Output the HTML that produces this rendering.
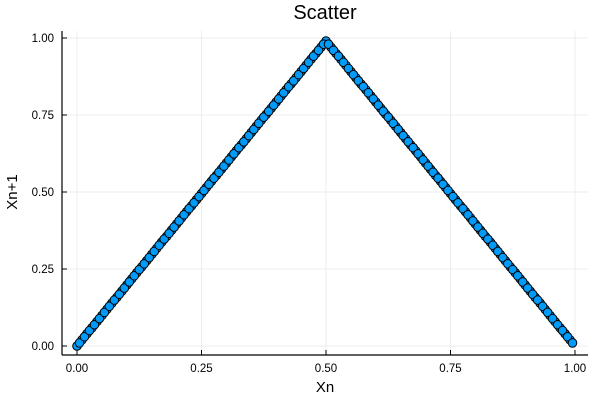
<!DOCTYPE html>
<html><head><meta charset="utf-8"><style>
body{margin:0;background:#fff;}
svg{display:block;font-family:"Liberation Sans",sans-serif;}
</style></head><body>
<svg id="chart" width="600" height="400">
<rect width="600" height="400" fill="#fff"/>
<text x="325" y="19" font-size="20" text-anchor="middle" fill="#000">Scatter</text>
<g id="grid"></g><g id="axes"></g><g id="marks"></g>
<text x="325" y="392" font-size="15" text-anchor="middle">Xn</text>
<text x="17" y="192" font-size="15" text-anchor="middle" transform="rotate(-90 17 192)">Xn+1</text>
</svg>
<script>
const xs=[0,0.01,0.02,0.03,0.04,0.05,0.06,0.07,0.08,0.09,0.10,0.11,0.12,0.13,0.14,0.15,0.16,0.17,0.18,0.19,0.20,0.21,0.22,0.23,0.24,0.25,0.26,0.27,0.28,0.29,0.30,0.31,0.32,0.33,0.34,0.35,0.36,0.37,0.38,0.39,0.40,0.41,0.42,0.43,0.44,0.45,0.46,0.47,0.48,0.49,0.50,0.51,0.52,0.53,0.54,0.55,0.56,0.57,0.58,0.59,0.60,0.61,0.62,0.63,0.64,0.65,0.66,0.67,0.68,0.69,0.70,0.71,0.72,0.73,0.74,0.75,0.76,0.77,0.78,0.79,0.80,0.81,0.82,0.83,0.84,0.85,0.86,0.87,0.88,0.89,0.90,0.91,0.92,0.93,0.94,0.95,0.96,0.97,0.98,0.99];
const ys=[0,0.020,0.040,0.059,0.079,0.099,0.119,0.139,0.158,0.178,0.198,0.218,0.238,0.257,0.277,0.297,0.317,0.337,0.356,0.376,0.396,0.416,0.436,0.455,0.475,0.495,0.515,0.535,0.554,0.574,0.594,0.614,0.634,0.653,0.673,0.693,0.713,0.733,0.752,0.772,0.792,0.812,0.832,0.851,0.871,0.891,0.911,0.931,0.950,0.970,0.990,0.970,0.950,0.931,0.911,0.891,0.871,0.851,0.832,0.812,0.792,0.772,0.752,0.733,0.713,0.693,0.673,0.653,0.634,0.614,0.594,0.574,0.554,0.535,0.515,0.495,0.475,0.455,0.436,0.416,0.396,0.376,0.356,0.337,0.317,0.297,0.277,0.257,0.238,0.218,0.198,0.178,0.158,0.139,0.119,0.099,0.079,0.059,0.040,0.020];
const xs2=[0.005,0.015,0.025,0.035,0.045,0.055,0.065,0.075,0.085,0.095,0.105,0.115,0.125,0.135,0.145,0.155,0.165,0.175,0.185,0.195,0.205,0.215,0.225,0.235,0.245,0.255,0.265,0.275,0.285,0.295,0.305,0.315,0.325,0.335,0.345,0.355,0.365,0.375,0.385,0.395,0.405,0.415,0.425,0.435,0.445,0.455,0.465,0.475,0.485,0.495,0.505,0.515,0.525,0.535,0.545,0.555,0.565,0.575,0.585,0.595,0.605,0.615,0.625,0.635,0.645,0.655,0.665,0.675,0.685,0.695,0.705,0.715,0.725,0.735,0.745,0.755,0.765,0.775,0.785,0.795,0.805,0.815,0.825,0.835,0.845,0.855,0.865,0.875,0.885,0.895,0.905,0.915,0.925,0.935,0.945,0.955,0.965,0.975,0.985,0.995];
const ys2=[0.010,0.030,0.050,0.069,0.089,0.109,0.129,0.149,0.168,0.188,0.208,0.228,0.248,0.267,0.287,0.307,0.327,0.347,0.366,0.386,0.406,0.426,0.446,0.465,0.485,0.505,0.525,0.545,0.564,0.584,0.604,0.624,0.644,0.663,0.683,0.703,0.723,0.743,0.762,0.782,0.802,0.822,0.842,0.861,0.881,0.901,0.921,0.941,0.960,0.980,0.980,0.960,0.941,0.921,0.901,0.881,0.861,0.842,0.822,0.802,0.782,0.762,0.743,0.723,0.703,0.683,0.663,0.644,0.624,0.604,0.584,0.564,0.545,0.525,0.505,0.485,0.465,0.446,0.426,0.406,0.386,0.366,0.347,0.327,0.307,0.287,0.267,0.248,0.228,0.208,0.188,0.168,0.149,0.129,0.109,0.089,0.069,0.050,0.030,0.010];
const xTicks=[0,0.25,0.5,0.75,1];
const xTickLabels=["0.00","0.25","0.50","0.75","1.00"];
const yTicks=[0,0.25,0.5,0.75,1];
const yTickLabels=["0.00","0.25","0.50","0.75","1.00"];
const NS="http://www.w3.org/2000/svg";
const L=62,R=588,T=31,B=355;
const sx=v=>77+v*(575-77);
const sy=v=>346-v*(346-38);
function mk(tag,attrs,parent){const e=document.createElementNS(NS,tag);for(const k in attrs)e.setAttribute(k,attrs[k]);parent.appendChild(e);return e;}
const grid=document.getElementById('grid'),axes=document.getElementById('axes'),marks=document.getElementById('marks');
xTicks.forEach((t,i)=>{
  const g=mk('line',{x1:sx(t),x2:sx(t),y1:T,y2:B,stroke:'#ececec','stroke-width':1},grid);
  
  
  const tk=mk('line',{x1:sx(t),x2:sx(t),y1:B,y2:B-5,stroke:'#000'},axes);
  
  
  const tx=mk('text',{x:sx(t),y:372,'font-size':11.5,'text-anchor':'middle'},axes);
  tx.textContent=xTickLabels[i];
  
  
});
yTicks.forEach((t,i)=>{
  const g=mk('line',{x1:L,x2:R,y1:sy(t),y2:sy(t),stroke:'#ececec','stroke-width':1},grid);
  
  
  const tk=mk('line',{x1:L,x2:L+5,y1:sy(t),y2:sy(t),stroke:'#000'},axes);
  
  
  const tx=mk('text',{x:L-8,y:sy(t)+4,'font-size':11.5,'text-anchor':'end'},axes);
  tx.textContent=yTickLabels[i];
  
  
});
const xa=mk('line',{x1:L,x2:R,y1:B,y2:B,stroke:'#000','stroke-width':1.2},axes);


const ya=mk('line',{x1:L,x2:L,y1:T,y2:B,stroke:'#000','stroke-width':1.2},axes);


function plot(X,Y){
  X.forEach((x,i)=>{
    const c=mk('circle',{cx:sx(x),cy:sy(Y[i]),r:4.3,fill:'#009af9',stroke:'#000','stroke-width':1},marks);
    
    
  });
}
plot(xs,ys);
plot(xs2,ys2);
</script>
</body></html>
